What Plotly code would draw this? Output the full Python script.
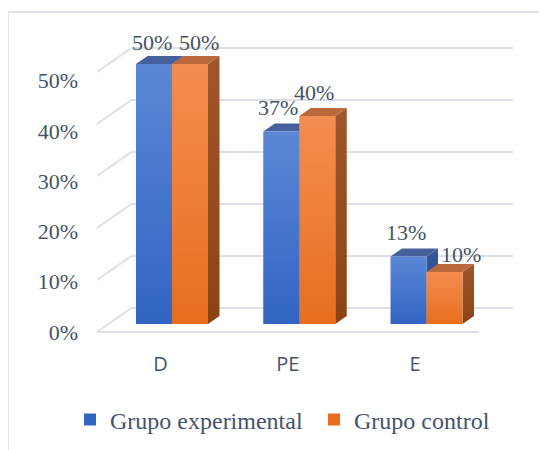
import plotly.graph_objects as go

# data
categories = ['D', 'PE', 'E']
experimental = [50, 37, 13]
control = [50, 40, 10]
series_names = ['Grupo experimental', 'Grupo control']
y_ticks = [0, 10, 20, 30, 40, 50]

# page / projection setup (Excel-like 3D clustered column)
W, H = 547, 450
OFF = 8                         # default body margin of the written page
PX_PER_CAT = 127.25
CAT0_PX = 172.0
PX_PER_PCT = 5.2
ZERO_PX = 324.0
DEPTH_PX = (11.5, 8.0)          # one depth step to the back: right and up

DX = DEPTH_PX[0] / PX_PER_CAT
DY = DEPTH_PX[1] / PX_PER_PCT
BW = 36.0 / PX_PER_CAT          # bar width in category units
WALL = (-0.5, len(categories) - 0.5)

TEXT = '#44546A'
GRID = '#DCDFE4'
SERIF = 'Liberation Serif'
SANS = 'Open Sans'

# front colour (top, bottom), top face, side (top, bottom)
STYLES = [
    dict(front=('#5B87D6', '#3264C3'), top='#46609C', side=('#36579A', '#2A4886')),
    dict(front=('#F48D50', '#E86E1E'), top='#B9693C', side=('#A0562C', '#8A4414')),
]
# small nudges Excel applied to the data labels (x px, y px above bar top)
LABEL_NUDGE = [
    [(-2, 22), (-3, 24), (-3, 24)],
    [(9, 22), (-3, 24), (16, 18)],
]


def px(x):
    return (x - OFF) / W


def py(y):
    return 1 - (y - OFF) / H


def proj(u, v, d):
    """Project point (category units, percent, depth step) to axis coords."""
    return u + (d - 1) * DX, v + (d - 1) * DY


def poly(points):
    xs, ys = zip(*[proj(*p) for p in points])
    return list(xs) + [xs[0]], list(ys) + [ys[0]]


fig = go.Figure()

# walls: back gridlines, side diagonals and front floor edge
gx, gy = [], []
for t in y_ticks:
    for a, b in [((WALL[0], t, 3), (WALL[1], t, 3)), ((WALL[0], t, 0), (WALL[0], t, 3))]:
        p, q = proj(*a), proj(*b)
        gx += [p[0], q[0], None]
        gy += [p[1], q[1], None]
p, q = proj(WALL[0], 0, 0), proj(WALL[1], 0, 0)
gx += [p[0], q[0]]
gy += [p[1], q[1]]
fig.add_trace(go.Scatter(x=gx, y=gy, mode='lines', line=dict(color=GRID, width=2),
                         hoverinfo='skip', showlegend=False))

series = [experimental, control]
for i in range(len(categories)):
    for s, values in enumerate(series):
        v = values[i]
        st = STYLES[s]
        x0 = i - BW + s * BW
        x1 = x0 + BW
        faces = [
            ([(x1, 0, 1), (x1, v, 1), (x1, v, 2), (x1, 0, 2)], st['side']),
            ([(x0, v, 1), (x1, v, 1), (x1, v, 2), (x0, v, 2)], (st['top'], st['top'])),
            ([(x0, 0, 1), (x1, 0, 1), (x1, v, 1), (x0, v, 1)], st['front']),
        ]
        for pts, (c_top, c_bot) in faces:
            xs, ys = poly(pts)
            fig.add_trace(go.Scatter(
                x=xs, y=ys, mode='lines', fill='toself',
                line=dict(width=0), fillcolor=c_top,
                fillgradient=dict(type='vertical', colorscale=[[0, c_bot], [1, c_top]]),
                hoverinfo='skip', showlegend=False))
        nx, ny = LABEL_NUDGE[s][i]
        fig.add_annotation(x=x0 + BW / 2, y=v, text=f'{v}%', showarrow=False,
                           xshift=nx, yshift=ny,
                           font=dict(family=SERIF, size=22, color=TEXT))

# legend entries
for s, name in enumerate(series_names):
    fig.add_trace(go.Bar(x=[None], y=[None], name=name,
                         marker=dict(color=STYLES[s]['front'][1], line=dict(width=0))))

# carrier for the percentage axis
fig.add_trace(go.Scatter(x=[None], y=[None], yaxis='y2', showlegend=False, hoverinfo='skip'))

fig.add_shape(type='rect', xref='paper', yref='paper',
              x0=px(8), x1=1.2, y0=-0.2, y1=py(12),
              line=dict(color='#D9DDE3', width=1.5))

fig.update_layout(
    width=W, height=H,
    margin=dict(l=0, r=0, t=0, b=0, autoexpand=False),
    paper_bgcolor='white', plot_bgcolor='rgba(0,0,0,0)',
    xaxis=dict(range=[(OFF - CAT0_PX) / PX_PER_CAT, (OFF + W - CAT0_PX) / PX_PER_CAT],
               tickvals=[i - DX for i in range(len(categories))], ticktext=categories,
               showgrid=False, zeroline=False, showline=False, ticks='',
               anchor='free', position=py(350),
               tickfont=dict(family=SANS, size=20, color=TEXT)),
    yaxis=dict(range=[(ZERO_PX - OFF - H) / PX_PER_PCT, (ZERO_PX - OFF) / PX_PER_PCT],
               showgrid=False, zeroline=False, showticklabels=False),
    yaxis2=dict(overlaying='y', anchor='free', position=px(78), side='left',
                range=[(332 - OFF - H) / 5.03, (332 - OFF) / 5.03],
                tickvals=y_ticks, ticktext=[f'{t}%' for t in y_ticks],
                showgrid=False, zeroline=False, showline=False, ticks='',
                tickfont=dict(family=SERIF, size=22, color=TEXT)),
    showlegend=True,
    legend=dict(orientation='h', x=px(70), xanchor='left', y=py(420), yanchor='middle',
                entrywidth=199, font=dict(family=SERIF, size=24, color=TEXT),
                bgcolor='rgba(0,0,0,0)'),
)

fig.write_html('out.html')
